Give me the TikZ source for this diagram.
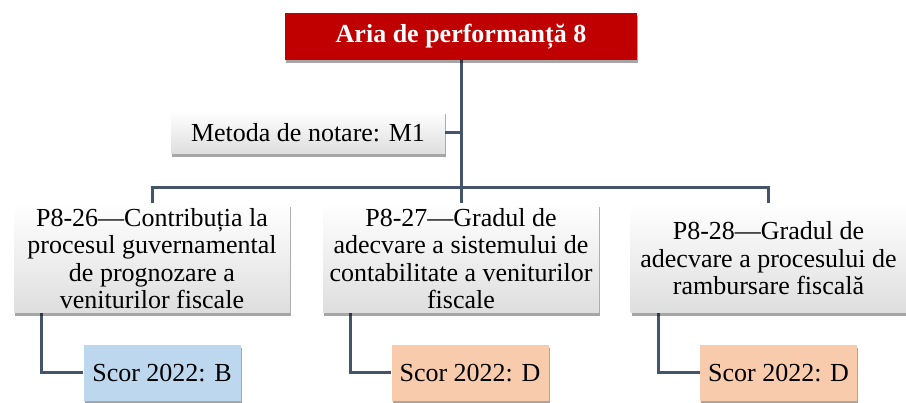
\documentclass[tikz,border=0pt]{standalone}
\usepackage{fontspec}
\setmainfont{Liberation Serif}
\usepackage{xcolor}
\definecolor{areared}{RGB}{192,0,0}
\definecolor{linkgray}{RGB}{68,84,106}
\definecolor{scoreblue}{RGB}{189,215,238}
\definecolor{scoreorange}{RGB}{248,203,173}
\usepackage{tikz}
\usetikzlibrary{shadows,calc,backgrounds}
\tikzset{
  boxshadow/.style={drop shadow={shadow xshift=1pt,shadow yshift=-3pt,%
    opacity=.35,fill=black}},
  head/.style={fill=areared,text=white,boxshadow,%
    font=\fontsize{26}{28}\selectfont\bfseries,inner sep=0pt,%
    minimum width=352pt,minimum height=47pt},
  card/.style={top color=white,bottom color=black!13,boxshadow,%
    font=\fontsize{26}{27.5}\selectfont,align=center,inner sep=0pt,%
    minimum width=276pt,minimum height=109pt},
  score/.style={boxshadow,font=\fontsize{26}{28}\selectfont,inner sep=0pt,%
    minimum width=157pt,minimum height=56pt},
  link/.style={draw=linkgray,line width=3pt},
}

\begin{document}
\begin{tikzpicture}[x=1pt,y=-1pt]
\useasboundingbox (0,0) rectangle (906,403);
% boxes
\node[head] (area) at (461,36.5) {Aria de performanță 8};
\node[card,minimum width=274pt,minimum height=43pt] (metoda) at (308,132.5) {Metoda de notare: M1};
\node[card] (p26) at (152,258.5) {P8-26—Contribuția la\\procesul guvernamental\\de prognozare a\\veniturilor fiscale};
\node[card] (p27) at (461,258.5) {P8-27—Gradul de\\adecvare a sistemului de\\contabilitate a veniturilor\\fiscale};
\node[card] (p28) at (768.5,258.5) {P8-28—Gradul de\\adecvare a procesului de\\rambursare fiscală};
\node[score,fill=scoreblue] (s26) at (162,373) {Scor 2022: B};
\node[score,fill=scoreorange] (s27) at (470,373) {Scor 2022: D};
\node[score,fill=scoreorange] (s28) at (778.5,373) {Scor 2022: D};
\coordinate (bar) at (461,188);
% connectors behind the boxes
\begin{scope}[on background layer]
\draw[link] (area.south) -- (p27.north);
\draw[link] (metoda.east) -- (metoda.east -| area.south);
\draw[link] (p26.north) |- (bar) -| (p28.north);
\draw[link] ($(p26.south west)+(28,0)$) |- (s26.west);
\draw[link] ($(p27.south west)+(28,0)$) |- (s27.west);
\draw[link] ($(p28.south west)+(28,0)$) |- (s28.west);
\end{scope}
\end{tikzpicture}
\end{document}
